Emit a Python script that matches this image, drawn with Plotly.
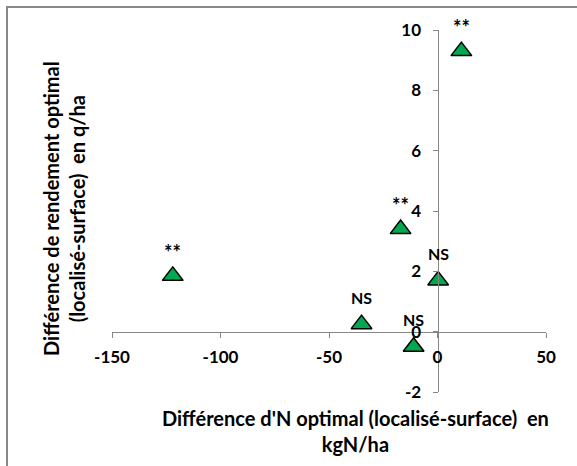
import plotly.graph_objects as go

# Data
x_diff_N = [11, -17, -122, 0.3, -35, -11]          # kgN/ha
y_diff_rdt = [9.3, 3.4, 1.85, 1.7, 0.25, -0.5]     # q/ha
signif = ["**", "**", "**", "NS", "NS", "NS"]

x_ticks = [-150, -100, -50, 0, 50]
x_tick_labels = ["-150", "-100", "-50", "0", "50"]
y_ticks = [-2, 0, 2, 4, 6, 8, 10]
y_tick_labels = ["-2", "0", "2", "4", "6", "8", "10"]

x_title = "Différence d'N optimal (localisé-surface)  en<br>kgN/ha"
y_title = "Différence de rendement optimal<br>(localisé-surface)  en q/ha"

W, H = 577, 466
ML, MR, MT, MB = 112, 31, 30, 74
PW, PH = W - ML - MR, H - MT - MB


def xp(px):
    return (px - ML) / PW


def yp(py):
    return (H - MB - py) / PH


FONT = "Lato"
axis_col = "#868686"

fig = go.Figure()
fig.add_trace(go.Scatter(
    x=x_diff_N, y=y_diff_rdt, mode="markers",
    marker=dict(symbol="triangle-up", size=18, color="#00A84F",
                line=dict(color="black", width=1.5)),
    hoverinfo="x+y", showlegend=False,
))

for xv, yv, lab in zip(x_diff_N, y_diff_rdt, signif):
    star = lab == "**"
    fig.add_annotation(
        x=xv, y=yv, text=lab, showarrow=False,
        yshift=24 if star else 27,
        font=dict(family=FONT, size=20 if star else 16, color="black", weight=700),
    )

tick_font = dict(family=FONT, size=17, color="black", weight=700)
fig.update_layout(
    width=W, height=H,
    margin=dict(l=ML, r=MR, t=MT, b=MB, autoexpand=False),
    paper_bgcolor="white", plot_bgcolor="white",
    xaxis=dict(range=[-150, 50], tickvals=x_ticks, ticktext=x_tick_labels,
               showgrid=False, zeroline=False,
               showline=True, linecolor=axis_col, linewidth=1,
               ticks="outside", ticklen=5, tickcolor=axis_col,
               anchor="free", position=2 / 12, tickfont=tick_font,
               ticklabelstandoff=5),
    yaxis=dict(range=[-2, 10], tickvals=y_ticks, ticktext=y_tick_labels,
               showgrid=False, zeroline=False,
               showline=True, linecolor=axis_col, linewidth=1,
               ticks="outside", ticklen=5, tickcolor=axis_col,
               anchor="free", position=0.75, tickfont=tick_font,
               ticklabelstandoff=8),
)

# axis titles
fig.add_annotation(
    x=xp(355), y=yp(431), xref="paper", yref="paper", text=x_title,
    showarrow=False, xanchor="center", yanchor="middle", align="center",
    font=dict(family=FONT, size=20, color="black", weight=700),
)
fig.add_annotation(
    x=xp(64), y=yp(209), xref="paper", yref="paper", text=y_title,
    showarrow=False, xanchor="center", yanchor="middle", align="center",
    textangle=-90,
    font=dict(family=FONT, size=20, color="black", weight=700),
)

# chart border
fig.add_shape(type="rect", xref="paper", yref="paper",
              x0=xp(7), y0=yp(7), x1=xp(590), y1=yp(480),
              line=dict(color="#888888", width=2), fillcolor="rgba(0,0,0,0)",
              layer="below")

fig.write_html("out.html", config={"displayModeBar": False},
               post_script="document.body.style.margin='0px';")
